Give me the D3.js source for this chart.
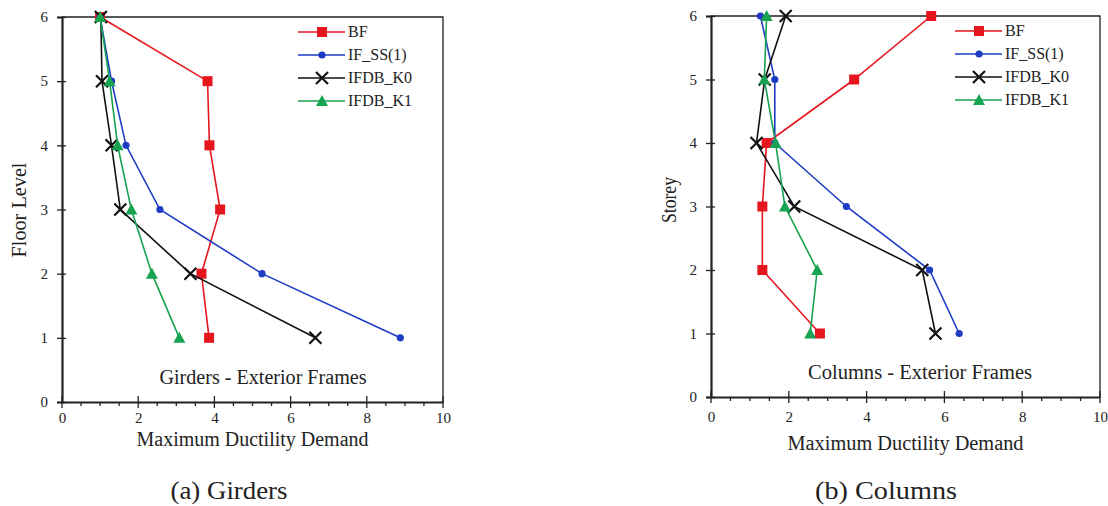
<!DOCTYPE html>
<html>
<head>
<meta charset="utf-8">
<script src="https://cdn.jsdelivr.net/npm/d3@7"></script>
<style>
  body { margin: 0; background: #fff; }
</style>
</head>
<body>
<svg id="chart" width="1108" height="506"></svg>
<script>
/* global d3 */

// floors / storeys 1..6
const floors = [1, 2, 3, 4, 5, 6];
const seriesNames = ['BF', 'IF_SS(1)', 'IFDB_K0', 'IFDB_K1'];
const xTicks = [0, 2, 4, 6, 8, 10];
const yTicks = [0, 1, 2, 3, 4, 5, 6];

// (a) girders: max ductility demand per floor 1..6
const girdersBF   = [3.86, 3.66, 4.15, 3.87, 3.82, 1.0];
const girdersIF   = [8.88, 5.25, 2.57, 1.68, 1.3, 1.0];
const girdersK0   = [6.65, 3.37, 1.53, 1.3, 1.05, 1.02];
const girdersK1   = [3.08, 2.36, 1.82, 1.46, 1.25, 1.0];

// (b) columns: max ductility demand per storey 1..6
const columnsBF   = [2.8, 1.32, 1.32, 1.43, 3.68, 5.66];
const columnsIF   = [6.38, 5.62, 3.48, 1.64, 1.64, 1.27];
const columnsK0   = [5.77, 5.43, 2.14, 1.17, 1.38, 1.92];
const columnsK1   = [2.55, 2.73, 1.9, 1.66, 1.37, 1.43];

const colors = {'BF': '#e5161e', 'IF_SS(1)': '#1d3cc4', 'IFDB_K0': '#111', 'IFDB_K1': '#17a34f'};
const markers = {'BF': 'square', 'IF_SS(1)': 'circle', 'IFDB_K0': 'cross', 'IFDB_K1': 'triangle'};

const FONT = '"Liberation Serif", "Times New Roman", Times, "DejaVu Serif", serif';

// layout per panel; text widths
const panels = [
    {
        left: 62, right: 443, top: 17, bottom: 402, tickPad: 10,
        yTitle: 'Floor Level', yTitleX: 26, yTitleY: 210, yTitleLen: 95,
        xTitleY: 446, xTitleLen: 232,
        note: 'Girders - Exterior Frames', noteX: 263, noteY: 384, noteLen: 207,
        caption: '(a) Girders', capX: 229, capLen: 117,
        series: [girdersBF, girdersIF, girdersK0, girdersK1]
    },
    {
        left: 711, right: 1100, top: 16, bottom: 397, tickPad: 14,
        yTitle: 'Storey', yTitleX: 676, yTitleY: 200, yTitleLen: 46,
        xTitleY: 450, xTitleLen: 236,
        note: 'Columns - Exterior Frames', noteX: 920, noteY: 379, noteLen: 224,
        caption: '(b) Columns', capX: 886, capLen: 142,
        series: [columnsBF, columnsIF, columnsK0, columnsK1]
    }
];

const svg = d3.select('#chart');

function drawMarker(g, kind, color) {
    if (kind === 'square') {
        g.append('rect').attr('x', -5).attr('y', -5).attr('width', 10).attr('height', 10)
            .attr('fill', color);
    } else if (kind === 'circle') {
        g.append('circle').attr('r', 3.6).attr('fill', color);
    } else if (kind === 'cross') {
        g.append('path').attr('d', 'M-6,-6L6,6M-6,6L6,-6')
            .attr('stroke', color).attr('stroke-width', 2.2).attr('fill', 'none');
    } else {
        g.append('path').attr('d', 'M0,-6L6,5L-6,5Z').attr('fill', color);
    }
}

function label(g, size) {
    return g.append('text')
        .attr('font-family', FONT)
        .attr('font-size', size)
        .attr('fill', '#222');
}

function drawPanel(p) {
    let x = d3.scaleLinear().domain([0, 10]).range([p.left, p.right]);
    let y = d3.scaleLinear().domain([0, 6]).range([p.bottom, p.top]);
    let g = svg.append('g');

    // frame: top and right thin
    g.append('path')
        .attr('d', `M${p.left},${p.top}H${p.right}V${p.bottom}`)
        .attr('fill', 'none').attr('stroke', '#222').attr('stroke-width', 1.3);

    // bottom axis; majors cross the line, minors hang below
    let xAxis = d3.axisBottom(x).tickValues(xTicks).tickSize(0).tickPadding(p.tickPad)
        .tickFormat(d3.format('d'));
    let gx = g.append('g').attr('transform', `translate(0,${p.bottom})`).call(xAxis)
        .attr('font-family', FONT).attr('font-size', 15);
    gx.select('.domain').attr('stroke', '#222').attr('stroke-width', 2.2);
    gx.selectAll('text').attr('fill', '#222');
    gx.selectAll('.minor')
        .data(d3.range(0, 10.01, 0.5))
        .enter()
        .append('line')
        .attr('x1', d => x(d)).attr('x2', d => x(d))
        .attr('y1', d => d % 2 === 0 ? -6 : 0)
        .attr('y2', d => d % 2 === 0 ? 6 : 4)
        .attr('stroke', '#222').attr('stroke-width', 1.3);

    // left axis
    let yAxis = d3.axisLeft(y).tickValues(yTicks).tickSize(5).tickPadding(9)
        .tickFormat(d3.format('d'));
    let gy = g.append('g').attr('transform', `translate(${p.left},0)`).call(yAxis)
        .attr('font-family', FONT).attr('font-size', 15);
    gy.select('.domain').attr('stroke', '#222').attr('stroke-width', 2.2);
    gy.selectAll('.tick line').attr('stroke', '#222').attr('stroke-width', 1.3)
        .attr('x1', 4);
    gy.selectAll('text').attr('fill', '#222');

    // titles
    label(g, 20)
        .attr('transform', `translate(${p.yTitleX},${p.yTitleY}) rotate(-90)`)
        .attr('text-anchor', 'middle')
        .attr('textLength', p.yTitleLen).attr('lengthAdjust', 'spacingAndGlyphs')
        .text(p.yTitle);
    label(g, 20)
        .attr('x', (p.left + p.right) / 2).attr('y', p.xTitleY)
        .attr('text-anchor', 'middle')
        .attr('textLength', p.xTitleLen).attr('lengthAdjust', 'spacingAndGlyphs')
        .text('Maximum Ductility Demand');
    label(g, 20)
        .attr('x', p.noteX).attr('y', p.noteY)
        .attr('text-anchor', 'middle')
        .attr('textLength', p.noteLen).attr('lengthAdjust', 'spacingAndGlyphs')
        .text(p.note);
    label(g, 26)
        .attr('x', p.capX).attr('y', 499)
        .attr('text-anchor', 'middle')
        .attr('textLength', p.capLen).attr('lengthAdjust', 'spacingAndGlyphs')
        .text(p.caption);

    // series
    let line = d3.line().x(d => x(d[0])).y(d => y(d[1]));
    seriesNames.forEach((name, i) => {
        let pts = p.series[i].map((v, j) => [v, floors[j]]);
        g.append('path').datum(pts)
            .attr('d', line).attr('fill', 'none')
            .attr('stroke', colors[name]).attr('stroke-width', 1.6);
        pts.forEach(pt => {
            let m = g.append('g').attr('transform', `translate(${x(pt[0])},${y(pt[1])})`);
            drawMarker(m, markers[name], colors[name]);
        });
    });

    // legend
    let lx = p.right - 145;
    seriesNames.forEach((name, i) => {
        let ly = p.top + 15 + i * 23;
        let lg = g.append('g');
        lg.append('line').attr('x1', lx).attr('x2', lx + 47).attr('y1', ly).attr('y2', ly)
            .attr('stroke', colors[name]).attr('stroke-width', 1.6);
        let m = lg.append('g').attr('transform', `translate(${lx + 24},${ly})`);
        drawMarker(m, markers[name], colors[name]);
        label(lg, 16).attr('x', lx + 50).attr('y', ly + 5).text(name);
    });
}

panels.forEach(drawPanel);
</script>
</body>
</html>
